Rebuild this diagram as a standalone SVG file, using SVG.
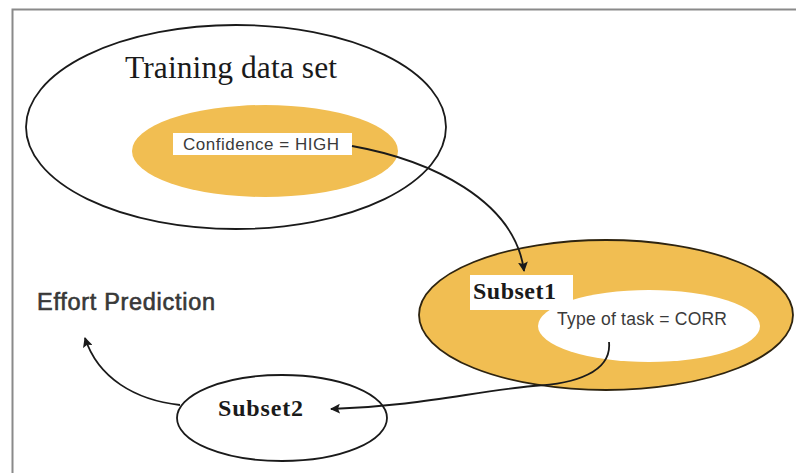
<svg xmlns="http://www.w3.org/2000/svg" width="796" height="473" viewBox="0 0 796 473">
  <style>
    .outline { fill: none; stroke: #1a1a1a; stroke-width: 1.8; }
    .gold { fill: #F1BE52; }
    .sans { font-family: "Liberation Sans", Arial, sans-serif; fill: #3a3a3a; }
    .serif { font-family: "Liberation Serif", "Times New Roman", serif; fill: #1a1a1a; }
    .bold { font-weight: bold; }
    .edge { fill: none; stroke: #1a1a1a; stroke-width: 1.8; }
  </style>
  <defs>
    <marker id="head" viewBox="0 0 10 10" refX="9" refY="5" markerWidth="10" markerHeight="10" markerUnits="userSpaceOnUse" orient="auto">
      <path d="M0,0 L10,5 L0,10 L2,5 Z" fill="#1a1a1a"/>
    </marker>
  </defs>

  <rect x="0" y="0" width="796" height="473" fill="#ffffff"/>
  <!-- frame -->
  <path d="M12.5,473 L12.5,9.5 L796,9.5" fill="none" stroke="#8a8a8a" stroke-width="2"/>

  <g id="training">
    <ellipse cx="236" cy="127" rx="210" ry="102" class="outline"/>
    <text x="125" y="78" class="serif" font-size="31.5" textLength="212">Training data set</text>
  </g>

  <g id="confidence">
    <ellipse cx="265" cy="151" rx="133" ry="46" class="gold"/>
    <rect x="173" y="133" width="179" height="22" fill="#ffffff"/>
    <text x="183" y="150" class="sans" font-size="17" textLength="156">Confidence = HIGH</text>
  </g>

  <g id="subset1">
    <ellipse cx="606" cy="315" rx="187" ry="75" class="gold" stroke="#2e2410" stroke-width="1.8"/>
    <ellipse cx="649" cy="326" rx="111" ry="36" fill="#ffffff"/>
    <rect x="470" y="275" width="103" height="35" fill="#ffffff"/>
    <text x="473" y="299" class="serif bold" font-size="24" textLength="83">Subset1</text>
    <text x="557" y="325" class="sans" font-size="17.5" textLength="170">Type of task = CORR</text>
  </g>

  <g id="subset2">
    <ellipse cx="282" cy="418" rx="105" ry="43" class="outline"/>
    <text x="218" y="416" class="serif bold" font-size="24" textLength="85">Subset2</text>
  </g>

  <g id="effort">
    <text x="37" y="310" class="sans" font-size="23.5" textLength="178" fill="#333333" stroke="#333333" stroke-width="0.6">Effort Prediction</text>
  </g>

  <g id="connectors">
    <path d="M352,146 C430,160 515,200 524,271" class="edge" marker-end="url(#head)"/>
    <path d="M609,342 C612,372 575,384 533,386 C470,392 420,406 331,409" class="edge" marker-end="url(#head)"/>
    <path d="M180,405 C135,400 98,378 85,338" class="edge" marker-end="url(#head)"/>
  </g>
</svg>
